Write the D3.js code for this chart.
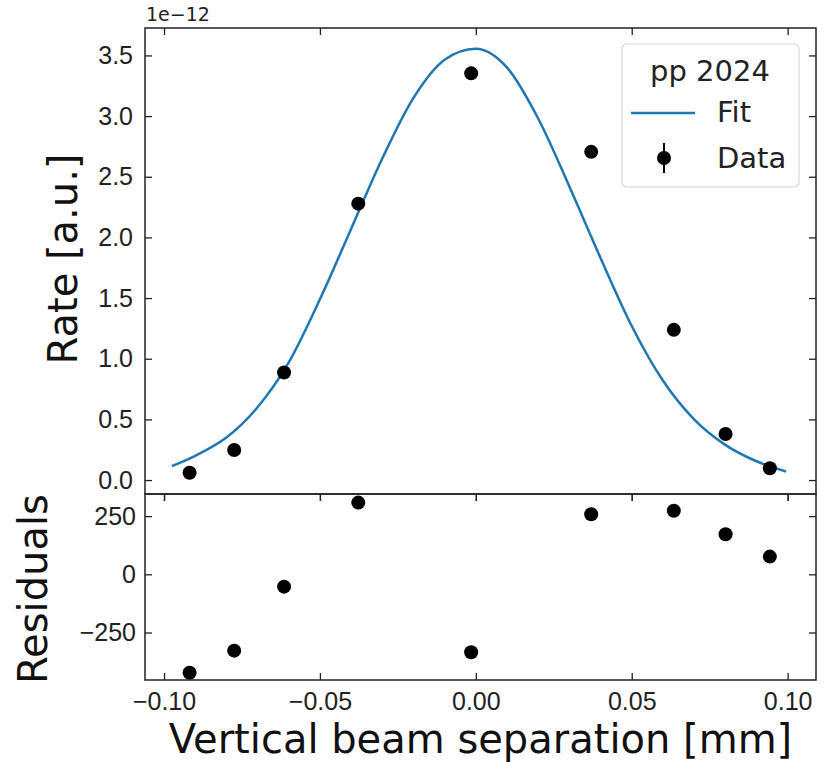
<!DOCTYPE html>
<meta charset="utf-8">
<style>
body { margin: 0; background: #fff; }
svg { font-family: "DejaVu Sans", sans-serif; }
.tick line { stroke: #222; stroke-width: 1.3; }
.tick text { fill: #222; font-size: 25px; }
.frame { fill: none; stroke: #222; stroke-width: 1.5; }
.fit { fill: none; stroke: #1f77b4; stroke-width: 2.5; }
.dot { fill: #000; }
</style>
<body>
<svg id="chart" width="831" height="762"></svg>
<script src="https://d3js.org/d3.v7.min.js"></script>
<script>

// data points (rate in units of 1e-12)
var sepX = [-0.0918, -0.0775, -0.0615, -0.0377, -0.0015, 0.0370, 0.0635, 0.0801, 0.0943];
var rate = [0.060, 0.248, 0.886, 2.278, 3.352, 2.705, 1.238, 0.380, 0.097];
var resid = [-423, -328, -53, 308, -335, 258, 273, 172, 76];

// fit curve
var fitX = [-0.0975, -0.09, -0.08, -0.07, -0.06, -0.05, -0.04, -0.03, -0.02, -0.01, 0.00,
            0.01, 0.02, 0.03, 0.04, 0.05, 0.06, 0.07, 0.08, 0.09, 0.0995];
var fitY = [0.115, 0.20, 0.35, 0.60, 0.97, 1.49, 2.07, 2.65, 3.15, 3.465, 3.555,
            3.40, 2.98, 2.42, 1.83, 1.27, 0.82, 0.50, 0.29, 0.155, 0.07];

var xTicks = [-0.10, -0.05, 0.00, 0.05, 0.10];
var rateTicks = [0.0, 0.5, 1.0, 1.5, 2.0, 2.5, 3.0, 3.5];
var residTicks = [-250, 0, 250];

var legendTitle = "pp 2024";
var legendLabels = ["Fit", "Data"];

var left = 145, right = 816, top1 = 28, mid = 494, bot = 680;
var tk = 7;

var svg = d3.select("#chart");

var x = d3.scaleLinear().domain([-0.1061, 0.1091]).range([left, right]);
var yTop = d3.scaleLinear().domain([-0.115, 3.726]).range([mid, top1]);
var yRes = d3.scaleLinear().domain([-454, 345]).range([bot, mid]);

function clean(g) { g.select(".domain").remove(); }

// top panel axes
svg.append("g").attr("transform", "translate(" + left + ",0)")
  .call(d3.axisLeft(yTop).tickValues(rateTicks).tickFormat(d3.format(".1f")).tickSize(-tk).tickPadding(12))
  .call(clean);
svg.append("g").attr("transform", "translate(" + right + ",0)")
  .call(d3.axisRight(yTop).tickValues(rateTicks).tickFormat("").tickSize(-tk))
  .call(clean);
svg.append("g").attr("transform", "translate(0," + top1 + ")")
  .call(d3.axisTop(x).tickValues(xTicks).tickFormat("").tickSize(-tk))
  .call(clean);
svg.append("g").attr("transform", "translate(0," + mid + ")")
  .call(d3.axisBottom(x).tickValues(xTicks).tickFormat("").tickSize(tk))
  .call(clean);

// residual panel axes
svg.append("g").attr("transform", "translate(" + left + ",0)")
  .call(d3.axisLeft(yRes).tickValues(residTicks).tickFormat(d3.format("d")).tickSize(-tk).tickPadding(9))
  .call(clean);
svg.append("g").attr("transform", "translate(" + right + ",0)")
  .call(d3.axisRight(yRes).tickValues(residTicks).tickFormat("").tickSize(-tk))
  .call(clean);
svg.append("g").attr("transform", "translate(0," + mid + ")")
  .call(d3.axisTop(x).tickValues(xTicks).tickFormat("").tickSize(-tk))
  .call(clean);
svg.append("g").attr("transform", "translate(0," + bot + ")")
  .call(d3.axisBottom(x).tickValues(xTicks).tickFormat(d3.format(".2f")).tickSize(-tk).tickPadding(12))
  .call(clean);

// fit line
var line = d3.line()
  .x(function(d, i) { return x(fitX[i]); })
  .y(function(d) { return yTop(d); })
  .curve(d3.curveMonotoneX);
svg.append("path").attr("class", "fit").attr("d", line(fitY));

// data points
svg.selectAll(".dot.rate")
  .data(rate)
  .enter().append("circle")
    .attr("class", "dot rate")
    .attr("cx", function(d, i) { return x(sepX[i]); })
    .attr("cy", function(d) { return yTop(d); })
    .attr("r", 7);

svg.selectAll(".dot.res")
  .data(resid)
  .enter().append("circle")
    .attr("class", "dot res")
    .attr("cx", function(d, i) { return x(sepX[i]); })
    .attr("cy", function(d) { return yRes(d); })
    .attr("r", 7);

// frames
svg.append("rect").attr("class", "frame")
  .attr("x", left).attr("y", top1).attr("width", right - left).attr("height", mid - top1);
svg.append("rect").attr("class", "frame")
  .attr("x", left).attr("y", mid).attr("width", right - left).attr("height", bot - mid);

// offset text
svg.append("text").attr("x", left + 1).attr("y", 21)
  .attr("font-size", 19).attr("fill", "#222").text("1e\u221212");

// axis labels
svg.append("text").attr("x", (left + right) / 2).attr("y", 753)
  .attr("text-anchor", "middle").attr("font-size", 40).attr("fill", "#111")
  .text("Vertical beam separation [mm]");
svg.append("text").attr("transform", "translate(77," + 259 + ") rotate(-90)")
  .attr("text-anchor", "middle").attr("font-size", 40).attr("fill", "#111")
  .text("Rate [a.u.]");
svg.append("text").attr("transform", "translate(47," + 589 + ") rotate(-90)")
  .attr("text-anchor", "middle").attr("font-size", 40).attr("fill", "#111")
  .text("Residuals");

// legend
var leg = svg.append("g");
leg.append("rect")
  .attr("x", 622).attr("y", 44).attr("width", 177).attr("height", 143)
  .attr("rx", 5).attr("fill", "#fff").attr("fill-opacity", 0.8)
  .attr("stroke", "#d5d5d5").attr("stroke-width", 1.2);
leg.append("text").attr("x", 710).attr("y", 81).attr("text-anchor", "middle")
  .attr("font-size", 29).attr("fill", "#222").text(legendTitle);
leg.append("line").attr("x1", 631).attr("x2", 695).attr("y1", 113).attr("y2", 113)
  .attr("stroke", "#1f77b4").attr("stroke-width", 2.5);
leg.append("text").attr("x", 717).attr("y", 122)
  .attr("font-size", 29).attr("fill", "#222").text(legendLabels[0]);
leg.append("line").attr("x1", 664).attr("x2", 664).attr("y1", 143).attr("y2", 173)
  .attr("stroke", "#000").attr("stroke-width", 2);
leg.append("circle").attr("cx", 664).attr("cy", 158).attr("r", 7).attr("fill", "#000");
leg.append("text").attr("x", 717).attr("y", 168)
  .attr("font-size", 29).attr("fill", "#222").text(legendLabels[1]);

</script>
